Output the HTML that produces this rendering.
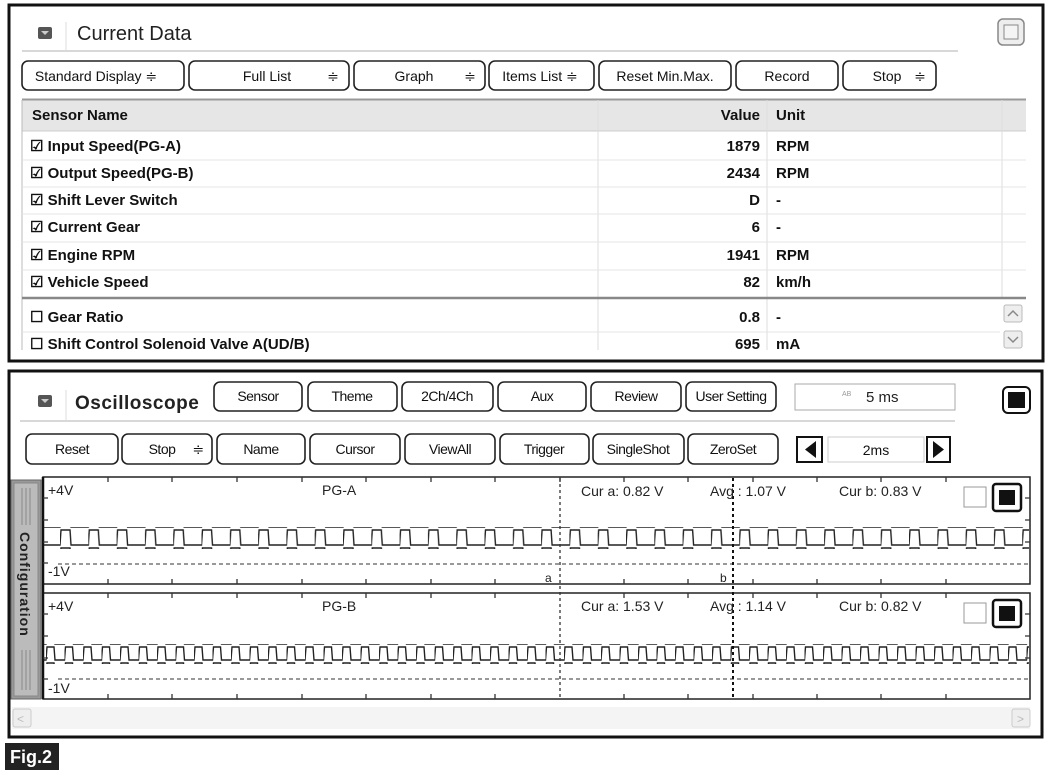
<!DOCTYPE html>
<html><head><meta charset="utf-8"><style>
html,body{margin:0;padding:0;background:#fff;}
svg{display:block;font-family:"Liberation Sans",Arial,sans-serif;}
.b{font-weight:bold;font-size:15px;fill:#111;}
.btn rect{fill:#fff;stroke:#222;stroke-width:1.6;}
.bt{font-size:14px;fill:#111;text-anchor:middle;}
.sm{font-size:14px;fill:#222;}
</style></head><body>
<svg width="1050" height="774" viewBox="0 0 1050 774" xmlns="http://www.w3.org/2000/svg">
<defs>
<pattern id="w1" x="60" y="529" width="28.3" height="18" patternUnits="userSpaceOnUse">
<path d="M-1,16 L0,16 L1,1 L10,1 L11,16 L29.3,16" fill="none" stroke="#222" stroke-width="1.4"/>
</pattern>
<pattern id="w2" x="46" y="646" width="18.5" height="16" patternUnits="userSpaceOnUse">
<path d="M-1,14 L0,14 L1,1 L8,1 L9,14 L19.5,14" fill="none" stroke="#222" stroke-width="1.4"/>
</pattern>
</defs>
<!-- TOP PANEL -->
<rect x="9" y="5" width="1034" height="356" fill="#fff" stroke="#111" stroke-width="3"/>
<rect x="38" y="27" width="14" height="12" rx="2" fill="#555"/>
<path d="M41,31 h8 l-4,4z" fill="#ccc"/>
<line x1="66" y1="22" x2="66" y2="50" stroke="#ddd"/>
<text x="77" y="40" font-size="20" fill="#222">Current Data</text>
<line x1="22" y1="51" x2="958" y2="51" stroke="#ccc" stroke-width="1.5"/>
<rect x="998" y="19" width="26" height="26" rx="5" fill="#eee" stroke="#888" stroke-width="1.5"/>
<rect x="1004" y="25" width="14" height="14" fill="#f4f4f4" stroke="#888"/>
<g class="btn">
<rect x="22" y="61" width="162" height="29" rx="6"/>
<rect x="189" y="61" width="160" height="29" rx="6"/>
<rect x="354" y="61" width="131" height="29" rx="6"/>
<rect x="489" y="61" width="105" height="29" rx="6"/>
<rect x="599" y="61" width="132" height="29" rx="6"/>
<rect x="736" y="61" width="102" height="29" rx="6"/>
<rect x="843" y="61" width="93" height="29" rx="6"/>
</g>
<g class="bt">
<text x="96" y="81">Standard Display ≑</text>
<text x="267" y="81">Full List</text><text x="333" y="81">≑</text>
<text x="414" y="81">Graph</text><text x="470" y="81">≑</text>
<text x="540" y="81">Items List ≑</text>
<text x="665" y="81">Reset Min.Max.</text>
<text x="787" y="81">Record</text>
<text x="887" y="81">Stop</text><text x="920" y="81">≑</text>
</g>
<!-- table -->
<rect x="22" y="99" width="1004" height="32" fill="#e6e6e6"/>
<line x1="22" y1="99.5" x2="1026" y2="99.5" stroke="#999" stroke-width="2"/>
<line x1="22" y1="131" x2="1026" y2="131" stroke="#ccc"/>
<line x1="598" y1="100" x2="598" y2="350" stroke="#ddd"/>
<line x1="767" y1="100" x2="767" y2="350" stroke="#ddd"/>
<line x1="1002" y1="100" x2="1002" y2="297" stroke="#ddd"/>
<line x1="22" y1="100" x2="22" y2="350" stroke="#bbb"/>
<text x="32" y="120" class="b">Sensor Name</text>
<text x="760" y="120" class="b" text-anchor="end">Value</text>
<text x="776" y="120" class="b">Unit</text>
<g stroke="#e4e4e4">
<line x1="22" y1="160" x2="1026" y2="160"/><line x1="22" y1="187" x2="1026" y2="187"/>
<line x1="22" y1="214" x2="1026" y2="214"/><line x1="22" y1="242" x2="1026" y2="242"/>
<line x1="22" y1="270" x2="1026" y2="270"/><line x1="22" y1="332" x2="1000" y2="332"/>
</g>
<line x1="22" y1="298" x2="1026" y2="298" stroke="#888" stroke-width="2.5"/>
<g class="b">
<text x="30" y="151">☑ Input Speed(PG-A)</text><text x="760" y="151" text-anchor="end">1879</text><text x="776" y="151">RPM</text>
<text x="30" y="178">☑ Output Speed(PG-B)</text><text x="760" y="178" text-anchor="end">2434</text><text x="776" y="178">RPM</text>
<text x="30" y="205">☑ Shift Lever Switch</text><text x="760" y="205" text-anchor="end">D</text><text x="776" y="205">-</text>
<text x="30" y="232">☑ Current Gear</text><text x="760" y="232" text-anchor="end">6</text><text x="776" y="232">-</text>
<text x="30" y="260">☑ Engine RPM</text><text x="760" y="260" text-anchor="end">1941</text><text x="776" y="260">RPM</text>
<text x="30" y="287">☑ Vehicle Speed</text><text x="760" y="287" text-anchor="end">82</text><text x="776" y="287">km/h</text>
<text x="30" y="322">☐ Gear Ratio</text><text x="760" y="322" text-anchor="end">0.8</text><text x="776" y="322">-</text>
<text x="30" y="349">☐ Shift Control Solenoid Valve A(UD/B)</text><text x="760" y="349" text-anchor="end">695</text><text x="776" y="349">mA</text>
</g>
<rect x="1004" y="305" width="18" height="17" rx="2" fill="#eee" stroke="#bbb"/>
<path d="M1008,316 l5,-5 l5,5" fill="none" stroke="#888" stroke-width="1.5"/>
<rect x="1004" y="331" width="18" height="17" rx="2" fill="#eee" stroke="#bbb"/>
<path d="M1008,337 l5,5 l5,-5" fill="none" stroke="#888" stroke-width="1.5"/>

<!-- BOTTOM PANEL -->
<rect x="9" y="371" width="1033" height="366" fill="#fff" stroke="#111" stroke-width="3"/>
<rect x="38" y="395" width="14" height="12" rx="2" fill="#555"/>
<path d="M41,399 h8 l-4,4z" fill="#ccc"/>
<line x1="66" y1="390" x2="66" y2="420" stroke="#ddd"/>
<text x="75" y="409" font-size="19" font-weight="bold" fill="#222" letter-spacing="0.5">Oscilloscope</text>
<line x1="20" y1="421" x2="955" y2="421" stroke="#ccc" stroke-width="1.5"/>
<g class="btn">
<rect x="214" y="382" width="88" height="29" rx="6"/>
<rect x="308" y="382" width="89" height="29" rx="6"/>
<rect x="402" y="382" width="91" height="29" rx="6"/>
<rect x="498" y="382" width="88" height="29" rx="6"/>
<rect x="591" y="382" width="90" height="29" rx="6"/>
<rect x="686" y="382" width="90" height="29" rx="6"/>
<rect x="26" y="434" width="92" height="30" rx="6"/>
<rect x="122" y="434" width="90" height="30" rx="6"/>
<rect x="217" y="434" width="88" height="30" rx="6"/>
<rect x="310" y="434" width="90" height="30" rx="6"/>
<rect x="405" y="434" width="90" height="30" rx="6"/>
<rect x="500" y="434" width="89" height="30" rx="6"/>
<rect x="593" y="434" width="91" height="30" rx="6"/>
<rect x="688" y="434" width="90" height="30" rx="6"/>
</g>
<g class="bt" letter-spacing="-0.5">
<text x="258" y="401">Sensor</text><text x="352" y="401">Theme</text><text x="447" y="401">2Ch/4Ch</text>
<text x="542" y="401">Aux</text><text x="636" y="401">Review</text><text x="731" y="401">User Setting</text>
<text x="72" y="454">Reset</text><text x="162" y="454">Stop</text><text x="198" y="454">≑</text>
<text x="261" y="454">Name</text><text x="355" y="454">Cursor</text><text x="450" y="454">ViewAll</text>
<text x="544" y="454">Trigger</text><text x="638" y="454">SingleShot</text><text x="733" y="454">ZeroSet</text>
</g>
<rect x="795" y="384" width="160" height="26" fill="#fff" stroke="#aaa"/>
<text x="842" y="396" font-size="7" fill="#999">AB</text>
<text x="866" y="402" font-size="15" fill="#222">5 ms</text>
<rect x="1003" y="387" width="27" height="26" rx="5" fill="#fff" stroke="#111" stroke-width="2"/>
<rect x="1008" y="392" width="17" height="16" fill="#111"/>
<rect x="797" y="437" width="25" height="25" fill="#fff" stroke="#111" stroke-width="2"/>
<path d="M816,441 v17 l-11,-8.5z" fill="#111"/>
<rect x="828" y="437" width="96" height="25" fill="#fff" stroke="#ccc"/>
<text x="876" y="455" class="bt" font-size="15">2ms</text>
<rect x="927" y="437" width="23" height="25" fill="#fff" stroke="#111" stroke-width="2"/>
<path d="M933,441 v17 l11,-8.5z" fill="#111"/>
<!-- config bar -->
<rect x="11" y="480" width="30" height="219" fill="#999" stroke="#666"/>
<rect x="14" y="483" width="24" height="213" fill="#bbb" stroke="#888"/>
<g stroke="#888"><line x1="22" y1="488" x2="22" y2="525"/><line x1="26" y1="488" x2="26" y2="525"/><line x1="30" y1="488" x2="30" y2="525"/>
<line x1="22" y1="650" x2="22" y2="690"/><line x1="26" y1="650" x2="26" y2="690"/><line x1="30" y1="650" x2="30" y2="690"/></g>
<text x="0" y="0" transform="translate(20,532) rotate(90)" font-size="14" font-weight="bold" fill="#222" letter-spacing="1">Configuration</text>
<!-- channel boxes -->
<g fill="none" stroke="#222" stroke-width="1.5">
<rect x="43" y="477" width="987" height="107"/>
<rect x="43" y="593" width="987" height="106"/>
</g>
<line x1="43" y1="477" x2="43" y2="699" stroke="#111" stroke-width="2.5"/>
<g stroke="#333" stroke-width="1.3">
<path d="M108,477v5M172,477v5M237,477v5M302,477v5M366,477v5M431,477v5M495,477v5M560,477v5M624,477v5M688,477v5M753,477v5M817,477v5M881,477v5M946,477v5"/>
<path d="M108,584v-5M172,584v-5M237,584v-5M302,584v-5M366,584v-5M431,584v-5M495,584v-5M624,584v-5M688,584v-5M753,584v-5M817,584v-5M881,584v-5M946,584v-5"/>
<path d="M108,593v5M172,593v5M237,593v5M302,593v5M366,593v5M431,593v5M495,593v5M624,593v5M688,593v5M753,593v5M817,593v5M881,593v5M946,593v5"/>
<path d="M108,699v-5M172,699v-5M237,699v-5M302,699v-5M366,699v-5M431,699v-5M495,699v-5M624,699v-5M688,699v-5M753,699v-5M817,699v-5M881,699v-5M946,699v-5"/>
<path d="M43,498h5M43,520h5M43,542h5M43,563h5M43,614h5M43,636h5M43,658h5M43,679h5"/>
<path d="M1030,498h-5M1030,520h-5M1030,542h-5M1030,614h-5M1030,636h-5M1030,658h-5"/>
</g>
<line x1="58" y1="564" x2="1030" y2="564" stroke="#333" stroke-dasharray="4,3"/>
<line x1="58" y1="679" x2="1030" y2="679" stroke="#333" stroke-dasharray="4,3"/>
<rect x="44" y="527" width="985" height="22" fill="url(#w1)"/>
<rect x="44" y="644" width="985" height="20" fill="url(#w2)"/>
<line x1="560" y1="478" x2="560" y2="699" stroke="#333" stroke-width="1.3" stroke-dasharray="3,3"/>
<line x1="733" y1="478" x2="733" y2="699" stroke="#111" stroke-width="2" stroke-dasharray="3,3"/>
<g class="sm">
<text x="48" y="495">+4V</text><text x="48" y="576">-1V</text>
<text x="48" y="611">+4V</text><text x="48" y="693">-1V</text>
<text x="322" y="495">PG-A</text><text x="322" y="611">PG-B</text>
<text x="545" y="582" font-size="12">a</text><text x="720" y="582" font-size="12">b</text>
<text x="581" y="496">Cur a: 0.82 V</text><text x="710" y="496">Avg  : 1.07 V</text><text x="839" y="496">Cur b: 0.83 V</text>
<text x="581" y="611">Cur a: 1.53 V</text><text x="710" y="611">Avg  : 1.14 V</text><text x="839" y="611">Cur b: 0.82 V</text>
</g>
<rect x="964" y="487" width="22" height="20" fill="#fff" stroke="#999"/>
<rect x="993" y="484" width="28" height="27" rx="3" fill="#fff" stroke="#111" stroke-width="2.5"/>
<rect x="999" y="490" width="16" height="15" fill="#111"/>
<rect x="964" y="603" width="22" height="20" fill="#fff" stroke="#999"/>
<rect x="993" y="600" width="28" height="27" rx="3" fill="#fff" stroke="#111" stroke-width="2.5"/>
<rect x="999" y="606" width="16" height="15" fill="#111"/>
<!-- scrollbar -->
<rect x="12" y="707" width="1018" height="22" fill="#f4f4f4"/>
<rect x="13" y="709" width="18" height="18" rx="2" fill="#eee" stroke="#ccc"/>
<text x="17" y="723" font-size="12" fill="#bbb">&lt;</text>
<rect x="1012" y="709" width="18" height="18" rx="2" fill="#eee" stroke="#ccc"/>
<text x="1017" y="723" font-size="12" fill="#bbb">&gt;</text>
<!-- Fig label -->
<rect x="5" y="743" width="54" height="27" fill="#222"/>
<text x="10" y="763" font-size="18" font-weight="bold" fill="#fff">Fig.2</text>
</svg>
</body></html>
